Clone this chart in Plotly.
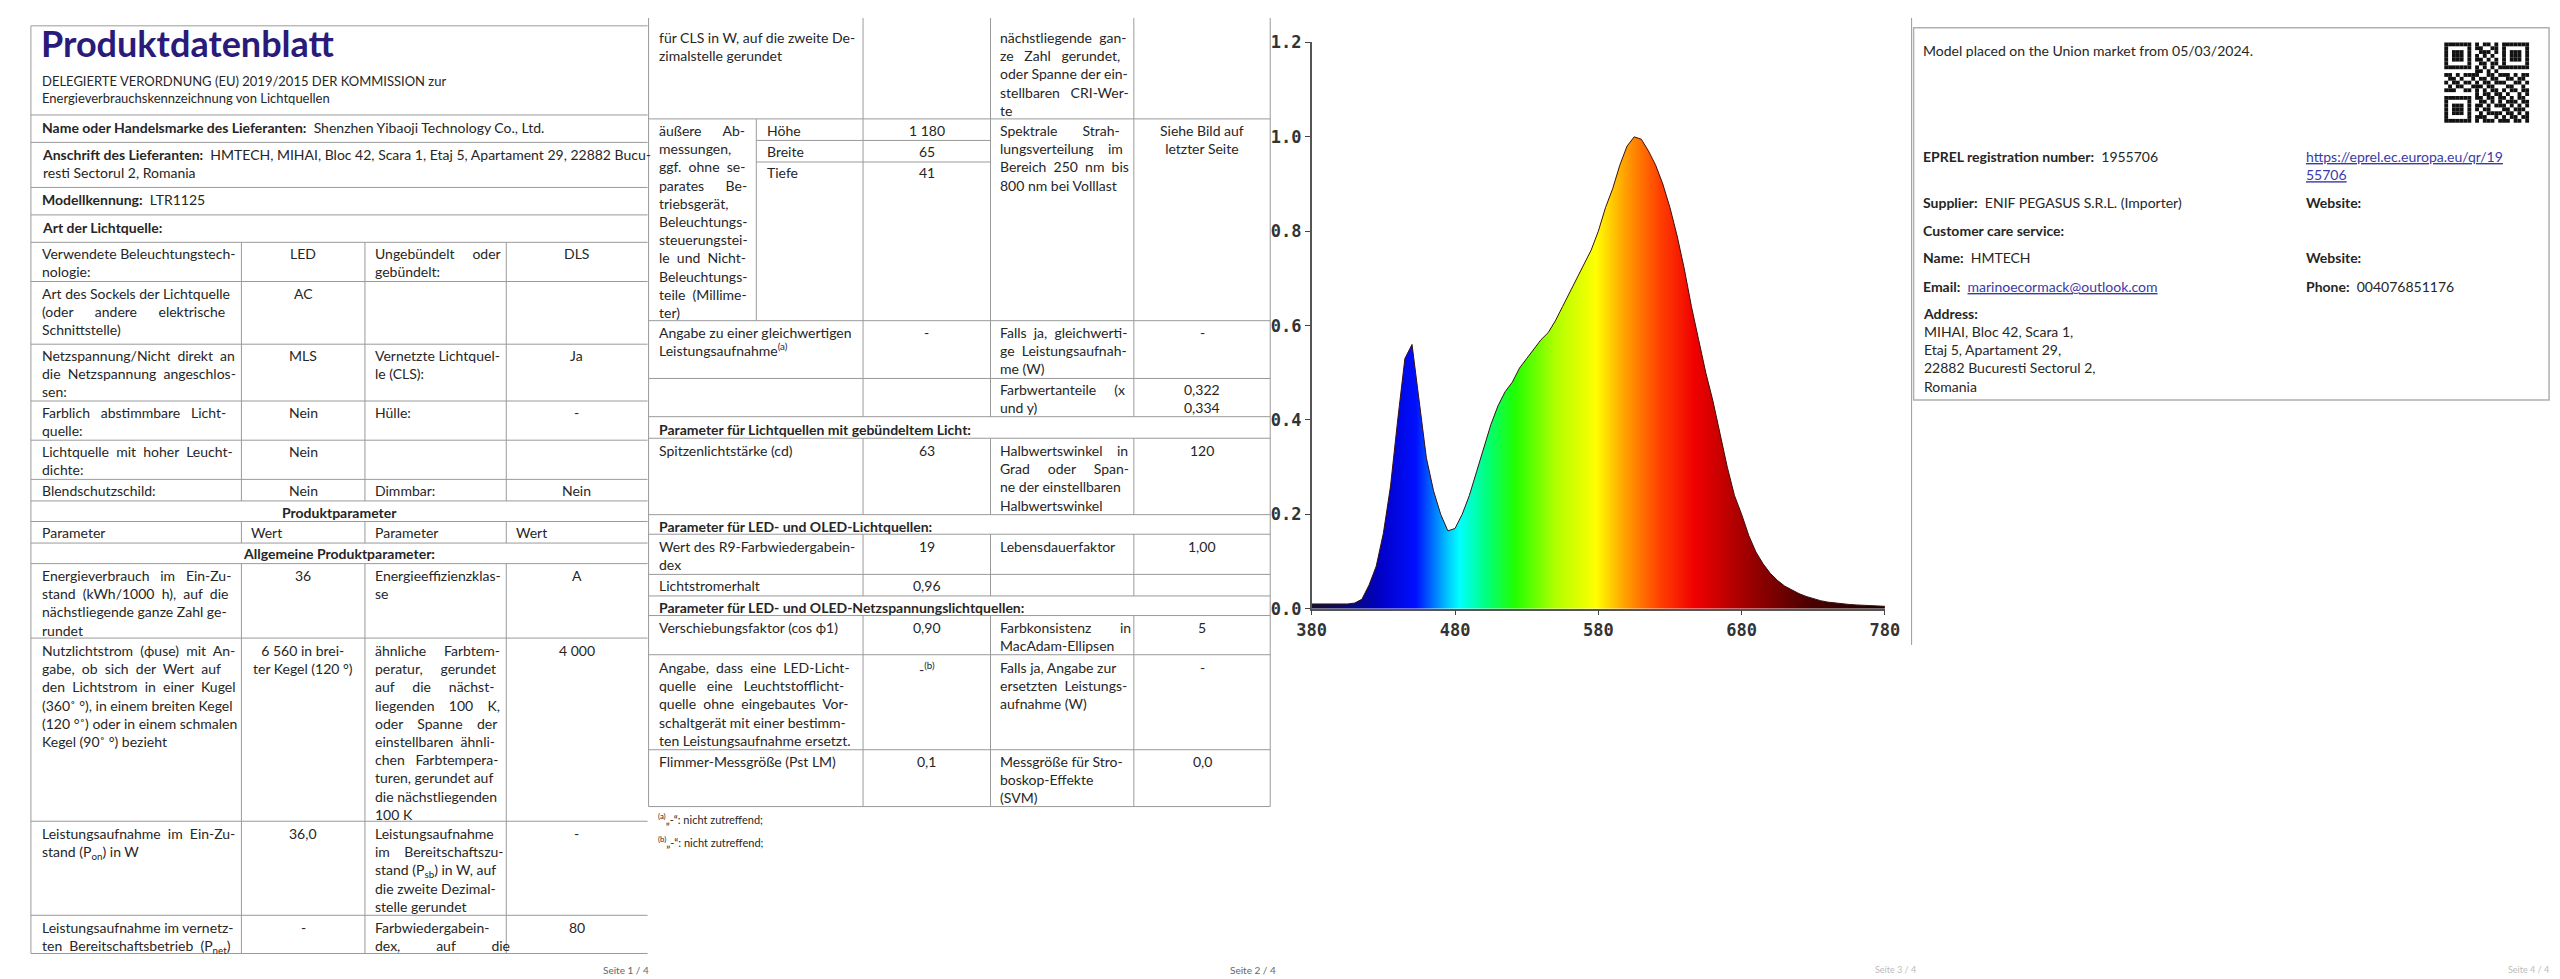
import plotly.graph_objects as go

W, H = 2560, 979

# spectrum (relative intensity per wavelength, nm)
wavelength = [380, 385, 390, 395, 400, 405, 410, 415, 420, 425, 430, 435, 440, 445, 450, 455,
              460, 465, 470, 475, 480, 485, 490, 495, 500, 505, 510, 515, 520, 525, 530, 535,
              540, 545, 550, 555, 560, 565, 570, 575, 580, 585, 590, 595, 600, 605, 610, 615,
              620, 625, 630, 635, 640, 645, 650, 655, 660, 665, 670, 675, 680, 685, 690, 695,
              700, 705, 710, 715, 720, 725, 730, 735, 740, 745, 750, 755, 760, 765, 770, 775, 780]
intensity = [0.01, 0.01, 0.01, 0.01, 0.01, 0.01, 0.012, 0.02, 0.05, 0.09, 0.16, 0.26, 0.40, 0.53, 0.56, 0.44,
             0.32, 0.25, 0.20, 0.165, 0.17, 0.20, 0.24, 0.29, 0.34, 0.39, 0.43, 0.46, 0.48, 0.51, 0.53, 0.55,
             0.57, 0.585, 0.61, 0.64, 0.67, 0.70, 0.73, 0.76, 0.80, 0.85, 0.89, 0.94, 0.98, 1.0, 0.995, 0.97,
             0.94, 0.90, 0.85, 0.79, 0.72, 0.64, 0.57, 0.50, 0.44, 0.37, 0.30, 0.24, 0.20, 0.155, 0.12, 0.095,
             0.075, 0.06, 0.048, 0.04, 0.032, 0.026, 0.021, 0.017, 0.014, 0.012, 0.010, 0.009, 0.008, 0.007, 0.006, 0.005, 0.005]
x_ticks = [380, 480, 580, 680, 780]
y_ticks = [0.0, 0.2, 0.4, 0.6, 0.8, 1.0, 1.2]

FONT = "Lato"
LINE = "#9a9a9a"

annotations = []
shapes = []


def px(x):
    return x / W


def py(y):
    return 1 - y / H


def txt(x, y, s, size=14, bold=False, anchor="left", color="#262626"):
    # y = Mitte der ersten Zeile in Pixeln
    if bold:
        s = "<b>" + s + "</b>"
    annotations.append(dict(x=px(x), y=py(y - size * 0.65), xref="paper", yref="paper",
                            text=s, showarrow=False, xanchor=anchor, yanchor="top", align=anchor,
                            font=dict(family=FONT, size=size, color=color)))


def hl(x0, x1, y, color=LINE, width=1):
    shapes.append(dict(type="line", xref="paper", yref="paper", x0=px(x0), x1=px(x1),
                       y0=py(y), y1=py(y), line=dict(color=color, width=width)))


def vl(x, y0, y1, color=LINE, width=1):
    shapes.append(dict(type="line", xref="paper", yref="paper", x0=px(x), x1=px(x),
                       y0=py(y0), y1=py(y1), line=dict(color=color, width=width)))


# ---------------- Seite 1 ----------------
L0, L1, L2, L3, L4 = 8, 221, 346, 489, 632
hl(L0, L4, 8)
vl(L0, 8, 955)
for y in [99, 127, 173, 201, 229, 269, 333, 391, 431, 471, 493, 514, 536, 557, 633, 820, 916]:
    hl(L0, L4, y)
hl(L0, L4, 955)
for x in [L1, L2, L3]:
    vl(x, 229, 493)
    vl(x, 514, 536)
    vl(x, 557, 955)

txt(16, 24, "Produktdatenblatt", size=36, bold=True, color="#2a1a7a")
txt(17, 63, "DELEGIERTE VERORDNUNG (EU) 2019/2015 DER KOMMISSION zur<br>Energieverbrauchskennzeichnung von Lichtquellen", size=13)
txt(17, 110, "<b>Name oder Handelsmarke des Lieferanten:</b>  Shenzhen Yibaoji Technology Co., Ltd.")
txt(17, 138, "<b>Anschrift des Lieferanten:</b>  HMTECH, MIHAI, Bloc 42, Scara 1, Etaj 5, Apartament 29, 22882 Bucu-<br>resti Sectorul 2, Romania")
txt(17, 184, "<b>Modellkennung:</b>  LTR1125")
txt(17, 212, "Art der Lichtquelle:", bold=True)

c1, c2, c3, c4 = 17, (L1 + L2) / 2, 354, (L3 + L4) / 2
left_rows = [
    (239, "Verwendete Beleuchtungstech-<br>nologie:", "LED", "Ungebündelt     oder<br>gebündelt:", "DLS"),
    (280, "Art des Sockels der Lichtquelle<br>(oder      andere      elektrische<br>Schnittstelle)", "AC", "", ""),
    (343, "Netzspannung/Nicht  direkt  an<br>die  Netzspannung  angeschlos-<br>sen:", "MLS", "Vernetzte Lichtquel-<br>le (CLS):", "Ja"),
    (401, "Farblich   abstimmbare   Licht-<br>quelle:", "Nein", "Hülle:", "-"),
    (441, "Lichtquelle  mit  hoher  Leucht-<br>dichte:", "Nein", "", ""),
    (481, "Blendschutzschild:", "Nein", "Dimmbar:", "Nein"),
    (567, "Energieverbrauch   im   Ein-Zu-<br>stand  (kWh/1000  h),  auf  die<br>nächstliegende ganze Zahl ge-<br>rundet",
     "36", "Energieeffizienzklas-<br>se", "A"),
    (644, "Nutzlichtstrom  (ϕuse)  mit  An-<br>gabe,  ob  sich  der  Wert  auf<br>den  Lichtstrom  in  einer  Kugel<br>(360˚ °), in einem breiten Kegel<br>(120 °˚) oder in einem schmalen<br>Kegel (90˚ °) bezieht",
     "6 560 in brei-<br>ter Kegel (120 °)",
     "ähnliche     Farbtem-<br>peratur,     gerundet<br>auf     die     nächst-<br>liegenden    100    K,<br>oder    Spanne    der<br>einstellbaren  ähnli-<br>chen   Farbtempera-<br>turen, gerundet auf<br>die nächstliegenden<br>100 K",
     "4 000"),
    (831, "Leistungsaufnahme  im  Ein-Zu-<br>stand (P<sub>on</sub>) in W", "36,0",
     "Leistungsaufnahme<br>im    Bereitschaftszu-<br>stand (P<sub>sb</sub>) in W, auf<br>die zweite Dezimal-<br>stelle gerundet", "-"),
    (927, "Leistungsaufnahme im vernetz-<br>ten  Bereitschaftsbetrieb  (P<sub>net</sub>)", "-",
     "Farbwiedergabein-<br>dex,          auf          die", "80"),
]
for y, a, b, c, d in left_rows:
    txt(c1, y, a)
    if b:
        txt(c2, y, b, anchor="center")
    if c:
        txt(c3, y, c)
    if d:
        txt(c4, y, d, anchor="center")

txt((L0 + L4) / 2, 503, "Produktparameter", bold=True, anchor="center")
txt(c1, 524, "Parameter")
txt(229, 524, "Wert")
txt(c3, 524, "Parameter")
txt(497, 524, "Wert")
txt((L0 + L4) / 2, 545, "Allgemeine Produktparameter:", bold=True, anchor="center")
txt(610, 970, "Seite 1 / 4", size=10, anchor="center", color="#666")

# ---------------- Seite 2 ----------------
M0, M1, M2, M3, M4, M5 = 633, 742, 850, 979, 1124, 1262
vl(M0, 0, 805)
vl(M5, 0, 805)
for y in [103, 309, 368, 407, 429, 507, 527, 568, 590, 610, 650, 747, 805]:
    hl(M0, M5, y)
hl(M1, M3, 125)
hl(M1, M3, 147)
vl(M1, 103, 309)
for x in [M2, M3, M4]:
    vl(x, 0, 407)
    vl(x, 429, 507)
    vl(x, 527, 590)
    vl(x, 610, 805)

d1, d2, d3, d4 = 642, (M2 + M3) / 2, 987, (M4 + M5) / 2
txt(d1, 18, "für CLS in W, auf die zweite De-<br>zimalstelle gerundet")
txt(d3, 18, "nächstliegende  gan-<br>ze   Zahl   gerundet,<br>oder Spanne der ein-<br>stellbaren   CRI-Wer-<br>te")
txt(d1, 113, "äußere      Ab-<br>messungen,<br>ggf.  ohne  se-<br>parates      Be-<br>triebsgerät,<br>Beleuchtungs-<br>steuerungstei-<br>le  und  Nicht-<br>Beleuchtungs-<br>teile  (Millime-<br>ter)")
txt(751, 113, "Höhe")
txt(751, 135, "Breite")
txt(751, 156, "Tiefe")
txt(d2, 113, "1 180", anchor="center")
txt(d2, 135, "65", anchor="center")
txt(d2, 156, "41", anchor="center")
txt(d3, 113, "Spektrale       Strah-<br>lungsverteilung    im<br>Bereich  250  nm  bis<br>800 nm bei Volllast")
txt(d4, 113, "Siehe Bild auf<br>letzter Seite", anchor="center")
mid_rows = [
    (319, "Angabe zu einer gleichwertigen<br>Leistungsaufnahme<sup>(a)</sup>", "-", "Falls  ja,  gleichwerti-<br>ge  Leistungsaufnah-<br>me (W)", "-"),
    (378, "", "", "Farbwertanteile     (x<br>und y)", "0,322<br>0,334"),
    (440, "Spitzenlichtstärke (cd)", "63", "Halbwertswinkel    in<br>Grad     oder     Span-<br>ne der einstellbaren<br>Halbwertswinkel", "120"),
    (538, "Wert des R9-Farbwiedergabein-<br>dex", "19", "Lebensdauerfaktor", "1,00"),
    (578, "Lichtstromerhalt", "0,96", "", ""),
    (621, "Verschiebungsfaktor (cos ϕ1)", "0,90", "Farbkonsistenz        in<br>MacAdam-Ellipsen", "5"),
    (661, "Angabe,  dass  eine  LED-Licht-<br>quelle   eine   Leuchtstofflicht-<br>quelle  ohne  eingebautes  Vor-<br>schaltgerät mit einer bestimm-<br>ten Leistungsaufnahme ersetzt.",
     "-<sup>(b)</sup>", "Falls ja, Angabe zur<br>ersetzten  Leistungs-<br>aufnahme (W)", "-"),
    (757, "Flimmer-Messgröße (Pst LM)", "0,1", "Messgröße für Stro-<br>boskop-Effekte<br>(SVM)", "0,0"),
]
for y, a, b, c, d in mid_rows:
    if a:
        txt(d1, y, a)
    if b:
        txt(d2, y, b, anchor="center")
    if c:
        txt(d3, y, c)
    if d:
        txt(d4, y, d, anchor="center")
txt(d1, 418, "Parameter für Lichtquellen mit gebündeltem Licht:", bold=True)
txt(d1, 517, "Parameter für LED- und OLED-Lichtquellen:", bold=True)
txt(d1, 600, "Parameter für LED- und OLED-Netzspannungslichtquellen:", bold=True)
txt(641, 815, "<sup>(a)</sup>„-“: nicht zutreffend;", size=11)
txt(641, 838, "<sup>(b)</sup>„-“: nicht zutreffend;", size=11)
txt(1245, 970, "Seite 2 / 4", size=10, anchor="center", color="#666")

# ---------------- Seite 3 / 4 ----------------
vl(1911, 0, 640)
shapes.append(dict(type="rect", xref="paper", yref="paper", x0=px(1913), x1=px(2556),
                   y0=py(10), y1=py(390), line=dict(color="#b0b0b0", width=1.5)))
txt(1921, 32, "Model placed on the Union market from 05/03/2024.")
txt(1921, 140, "<b>EPREL registration number:</b>  1955706")
txt(2308, 140, "<u>https://eprel.ec.europa.eu/qr/19</u><br><u>55706</u>", color="#3a3aa8")
txt(1921, 187, "<b>Supplier:</b>  ENIF PEGASUS S.R.L. (Importer)")
txt(2308, 187, "Website:", bold=True)
txt(1921, 215, "Customer care service:", bold=True)
txt(1921, 243, "<b>Name:</b>  HMTECH")
txt(2308, 243, "Website:", bold=True)
txt(1921, 272, "<b>Email:</b>  <span style='color:#3a3aa8'><u>marinoecormack@outlook.com</u></span>")
txt(2308, 272, "<b>Phone:</b>  004076851176")
txt(1921, 300, "Address:", bold=True)
txt(1922, 318, "MIHAI, Bloc 42, Scara 1,<br>Etaj 5, Apartament 29,<br>22882 Bucuresti Sectorul 2,<br>Romania")
txt(1895, 970, "Seite 3 / 4", size=9, anchor="center", color="#bbb")
txt(2535, 970, "Seite 4 / 4", size=9, anchor="center", color="#bbb")

# QR-Code (grobe Nachbildung)
qx, qy, m = 2450, 25, 3.9
qr_rows = [
    "1111111010110101111111",
    "1000001011001101000001",
    "1011101001110101011101",
    "1011101010101001011101",
    "1011101011010101011101",
    "1000001001101101000001",
    "1111111010101011111111",
    "0000000011010100000000",
    "1101011110011011101011",
    "0110100101101100110110",
    "1011011010110111001101",
    "0101100111011000110010",
    "1110011010101101011011",
    "0000000010110110100101",
    "1111111011011011010110",
    "1000001001101010111011",
    "1011101011010111010101",
    "1011101010110001101110",
    "1011101001011110110101",
    "1000001011100101011011",
    "1111111010111011101101",
    "0000000000000000000000",
]
for r, row in enumerate(qr_rows):
    for c, v in enumerate(row):
        if v == "1":
            shapes.append(dict(type="rect", xref="paper", yref="paper", layer="above",
                               x0=px(qx + c * m), x1=px(qx + (c + 1) * m),
                               y0=py(qy + r * m), y1=py(qy + (r + 1) * m),
                               fillcolor="#111", line=dict(width=0)))

# ---------------- Spektrum ----------------
fig = go.Figure()
fig.add_trace(go.Scatter(
    x=wavelength, y=intensity, mode="lines", line=dict(color="#3a1010", width=1),
    fill="tozeroy",
    fillgradient=dict(type="horizontal", start=380, stop=780, colorscale=[
        [0.00, "#101030"], [0.06, "#0a0a70"], [0.12, "#0000c8"], [0.18, "#0010ff"],
        [0.235, "#00c8ff"], [0.255, "#00ffff"], [0.30, "#00ff80"], [0.35, "#20ff00"],
        [0.42, "#b0ff00"], [0.49, "#ffff00"], [0.54, "#ffa000"], [0.60, "#ff4000"],
        [0.66, "#f00000"], [0.75, "#a00000"], [0.85, "#500000"], [1.00, "#100000"]]),
    hoverinfo="x+y", showlegend=False))

tick_font = dict(family="DejaVu Sans Mono", size=17, color="#333", weight="bold")
fig.update_layout(
    width=W, height=H, margin=dict(l=0, r=0, t=0, b=0),
    paper_bgcolor="white", plot_bgcolor="white",
    xaxis=dict(domain=[px(1304), px(1884)], range=[380, 780], tickvals=x_ticks,
               ticks="outside", ticklen=5, showgrid=False, zeroline=False,
               showline=True, linecolor="#555", linewidth=1.5, tickfont=tick_font),
    yaxis=dict(domain=[py(603), py(25)], range=[0, 1.2], tickvals=y_ticks, tickformat=".1f",
               ticks="outside", ticklen=5, showgrid=False, zeroline=False,
               showline=True, linecolor="#555", linewidth=1.5, tickfont=tick_font),
    shapes=shapes, annotations=annotations,
)

fig.write_html("out.html")
